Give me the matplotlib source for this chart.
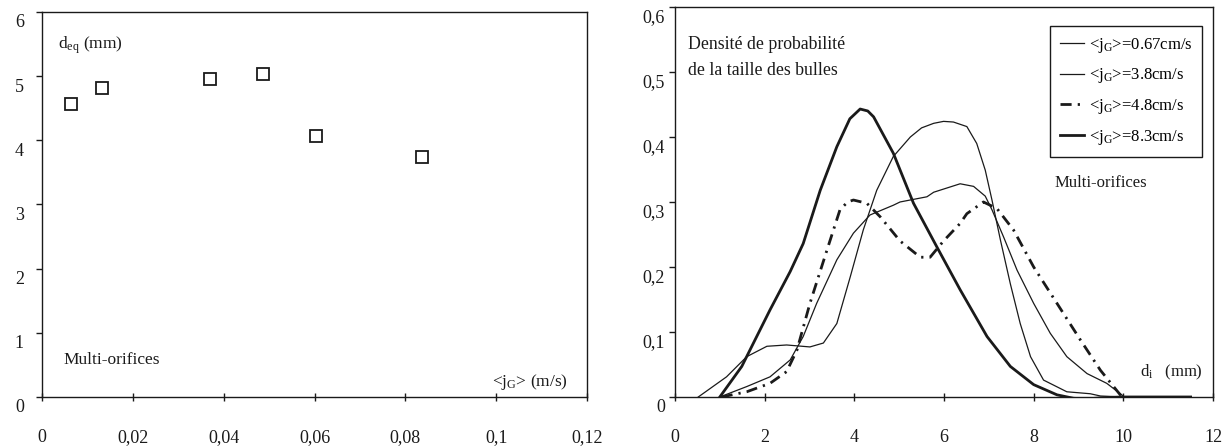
import numpy as np
import matplotlib
matplotlib.use("Agg")
import matplotlib.pyplot as plt
from matplotlib.transforms import ScaledTranslation

# =========================================================
# DATA
# =========================================================
jg = [0.0063, 0.0131, 0.0369, 0.0486, 0.0604, 0.0837]
deq = [4.56, 4.82, 4.95, 5.03, 4.07, 3.74]

left_xticks = [0, 0.02, 0.04, 0.06, 0.08, 0.1, 0.12]
left_xlabels = ["0", "0,02", "0,04", "0,06", "0,08", "0,1", "0,12"]
left_yticks = [0, 1, 2, 3, 4, 5, 6]
left_ylabels = ["0", "1", "2", "3", "4", "5", "6"]

right_xticks = [0, 2, 4, 6, 8, 10, 12]
right_xlabels = ["0", "2", "4", "6", "8", "10", "12"]
right_yticks = [0, 0.1, 0.2, 0.3, 0.4, 0.5, 0.6]
right_ylabels = ["0", "0,1", "0,2", "0,3", "0,4", "0,5", "0,6"]

# jG = 0.67 cm/s
d_067 = [0.52, 1.15, 1.6, 2.05, 2.49, 3.01, 3.31, 3.61, 3.91, 4.2, 4.5, 4.87,
         5.25, 5.5, 5.77, 5.99, 6.21, 6.51, 6.73, 6.92, 7.07, 7.26, 7.48, 7.7, 7.93,
         8.22, 8.74, 9.26, 9.49, 10.0]
p_067 = [0.0, 0.031, 0.062, 0.078, 0.08, 0.077, 0.083, 0.113, 0.185, 0.257, 0.318, 0.37,
         0.40, 0.414, 0.421, 0.424, 0.423, 0.416, 0.39, 0.349, 0.303, 0.241, 0.174, 0.113, 0.062,
         0.026, 0.008, 0.005, 0.0015, 0.0]

# jG = 3.8 cm/s
d_38 = [1.0, 1.6, 2.12, 2.57, 2.86, 3.16, 3.61, 3.98, 4.35, 4.87, 5.02, 5.62, 5.77,
        6.36, 6.66, 6.92, 7.07, 7.33, 7.63, 8.0, 8.37, 8.74, 9.19, 9.63, 9.97, 10.0]
p_38 = [0.0, 0.016, 0.031, 0.057, 0.093, 0.144, 0.211, 0.252, 0.28, 0.295, 0.30, 0.308, 0.315,
        0.328, 0.324, 0.309, 0.288, 0.246, 0.195, 0.144, 0.098, 0.062, 0.036, 0.021, 0.003, 0.0]

# jG = 4.8 cm/s
d_48 = [1.04, 1.6, 2.12, 2.49, 2.72, 3.01, 3.39, 3.68, 3.85, 3.98, 4.28, 4.58, 5.02, 5.47,
        5.69, 5.99, 6.36, 6.51, 6.88, 7.18, 7.55, 8.0, 8.52, 9.04, 9.49, 9.97]
p_48 = [0.0, 0.008, 0.021, 0.039, 0.072, 0.144, 0.226, 0.288, 0.300, 0.303, 0.298, 0.277, 0.24,
        0.215, 0.215, 0.24, 0.267, 0.282, 0.30, 0.29, 0.257, 0.20, 0.144, 0.088, 0.041, 0.0]

# jG = 8.3 cm/s
d_83 = [1.0, 1.49, 2.12, 2.57, 2.86, 3.24, 3.61, 3.9, 4.13, 4.3, 4.43, 4.87, 5.32, 5.84,
        6.36, 6.96, 7.48, 8.0, 8.52, 8.89, 9.19, 9.56, 9.97, 11.5]
p_83 = [0.0, 0.047, 0.134, 0.193, 0.236, 0.318, 0.385, 0.428, 0.443, 0.440, 0.431, 0.375, 0.298,
        0.231, 0.165, 0.093, 0.047, 0.019, 0.0033, -0.002, -0.003, -0.001, 0.0, 0.0]

# =========================================================
# STYLE
# =========================================================
plt.rcParams["font.family"] = ["Liberation Serif", "DejaVu Serif"]
plt.rcParams["mathtext.fontset"] = "custom"
plt.rcParams["mathtext.rm"] = "Liberation Serif"
plt.rcParams["mathtext.it"] = "Liberation Serif:italic"
INK = "#1a1a1a"
TICK_FS = 13


def style_axes(ax, xticks, xlabels, yticks, ylabels, ypad):
    for s in ax.spines.values():
        s.set_color(INK)
        s.set_linewidth(1.0)
    ax.set_xticks(xticks)
    ax.set_xticklabels(xlabels, fontsize=TICK_FS, color=INK)
    ax.set_yticks(yticks)
    ax.set_yticklabels(ylabels, fontsize=TICK_FS, color=INK)
    ax.tick_params(axis="x", direction="inout", length=6, width=1, pad=20, colors=INK)
    ax.tick_params(axis="y", direction="out", length=4, width=1, pad=ypad, colors=INK)
    # the y labels sit a little below their tick in the original
    shift = ScaledTranslation(0, -0.09, ax.figure.dpi_scale_trans)
    for lab in ax.get_yticklabels():
        lab.set_transform(lab.get_transform() + shift)


fig = plt.figure(figsize=(12.29, 4.47), dpi=100)

# =========================================================
# LEFT : mean diameter vs gas velocity
# =========================================================
ax1 = fig.add_axes([0.0342, 0.1119, 0.4435, 0.8613])
ax1.plot(jg, deq, linestyle="none", marker="s", markersize=8,
         markerfacecolor="white", markeredgecolor=INK, markeredgewidth=1.3)
ax1.set_xlim(0, 0.12)
ax1.set_ylim(0, 6)
style_axes(ax1, left_xticks, left_xlabels, left_yticks, left_ylabels, 9)

ax1.text(0.03, 0.915, r"d$_{\rm eq}$ (mm)", transform=ax1.transAxes,
         fontsize=12.5, color=INK, va="center", ha="left")
ax1.text(0.04, 0.095, "Multi-orifices", transform=ax1.transAxes,
         fontsize=12.5, color=INK, va="center", ha="left")
ax1.text(0.965, 0.04, r"<j$_{\rm G}$> (m/s)", transform=ax1.transAxes,
         fontsize=12.5, color=INK, va="center", ha="right")

# =========================================================
# RIGHT : bubble size pdf
# =========================================================
ax2 = fig.add_axes([0.5492, 0.1119, 0.4378, 0.8725])
ax2.plot(d_067, p_067, color=INK, lw=0.9, label=r"<j$_{\rm G}$>=0.67cm/s")
ax2.plot(d_38, p_38, color=INK, lw=0.9, label=r"<j$_{\rm G}$>=3.8cm/s")
ax2.plot(d_48, p_48, color=INK, lw=2.0, linestyle=(0, (4, 2.2, 0.8, 2.2)),
         label=r"<j$_{\rm G}$>=4.8cm/s")
ax2.plot(d_83, p_83, color=INK, lw=2.0, label=r"<j$_{\rm G}$>=8.3cm/s")
ax2.set_xlim(0, 12)
ax2.set_ylim(0, 0.6)
style_axes(ax2, right_xticks, right_xlabels, right_yticks, right_ylabels, 3)

ax2.text(0.025, 0.905, "Densité de probabilité", transform=ax2.transAxes,
         fontsize=12.8, color=INK, va="center", ha="left")
ax2.text(0.025, 0.838, "de la taille des bulles", transform=ax2.transAxes,
         fontsize=12.8, color=INK, va="center", ha="left")
ax2.text(0.705, 0.549, "Multi-orifices", transform=ax2.transAxes,
         fontsize=12, color=INK, va="center", ha="left")
ax2.text(0.865, 0.062, r"d$_{\rm i}$   (mm)", transform=ax2.transAxes,
         fontsize=12, color=INK, va="center", ha="left")

leg = ax2.legend(loc="upper right", bbox_to_anchor=(0.98, 0.952), borderaxespad=0,
                 fontsize=12, frameon=True, fancybox=False, framealpha=1,
                 edgecolor=INK, handlelength=1.4, handletextpad=0.3,
                 labelspacing=0.7, borderpad=0.6)
leg.get_frame().set_linewidth(1.0)

fig.savefig("out.png", dpi=100)
